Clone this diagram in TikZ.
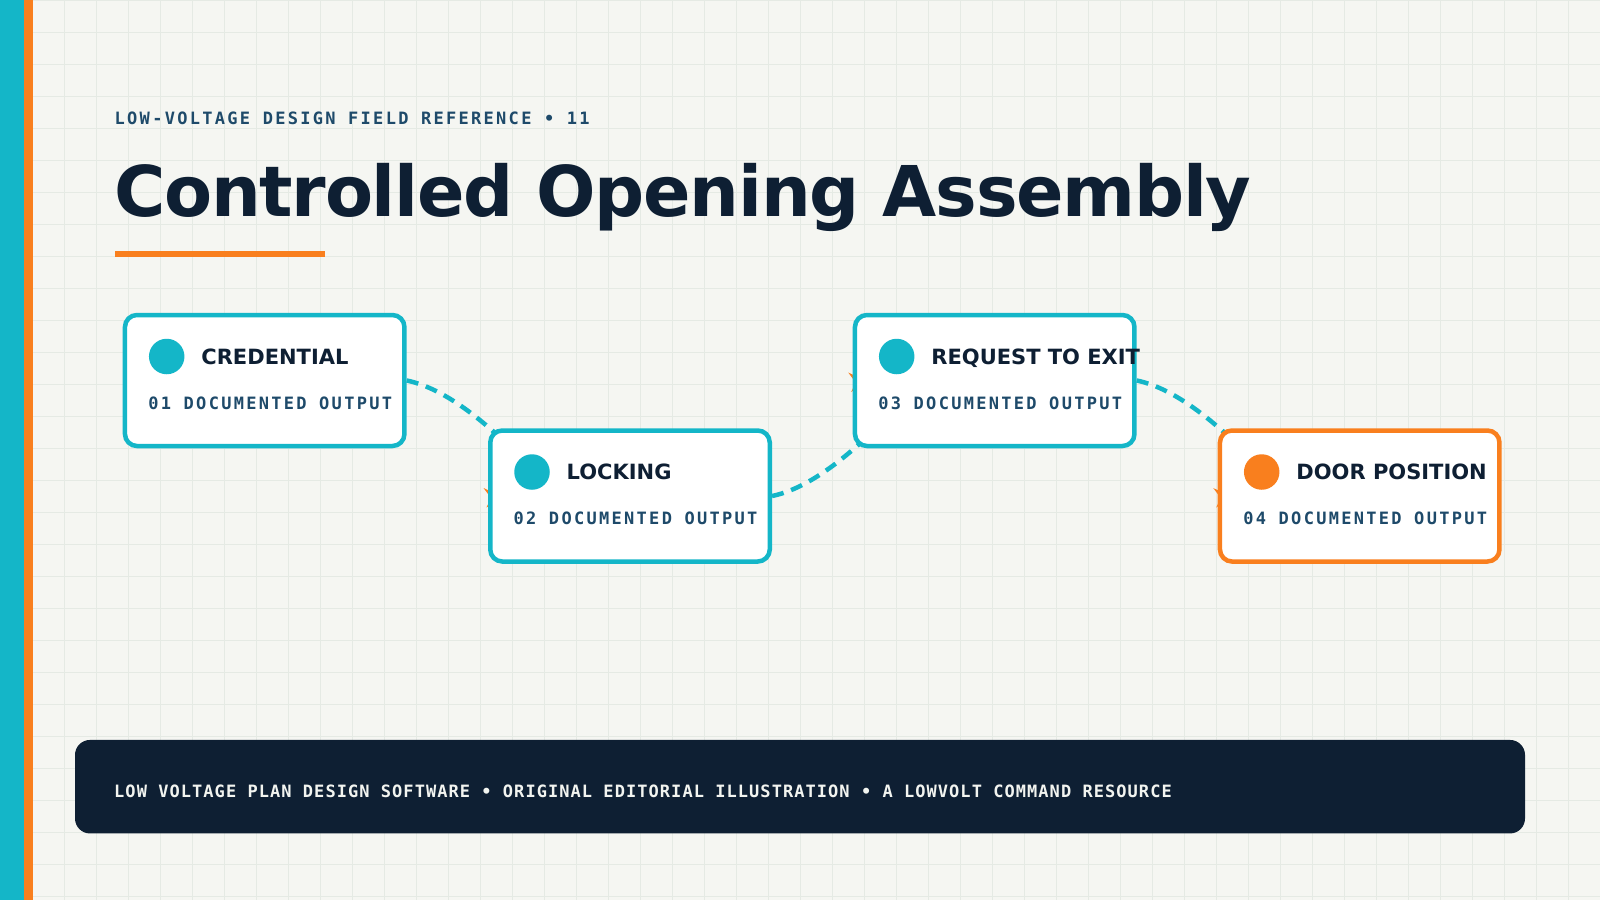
\documentclass[tikz,border=0pt]{standalone}
\usepackage{fontspec}
\setmainfont{DejaVu Sans}
\newfontfamily\titlefont[LetterSpace=-1.85]{DejaVu Sans}
\newfontfamily\labelfont{DejaVu Sans}
\newfontfamily\monowide[LetterSpace=13.5]{DejaVu Sans Mono}
\newfontfamily\mononarrow[LetterSpace=6.2]{DejaVu Sans Mono}
\usetikzlibrary{calc}

\definecolor{bgc}{HTML}{F5F6F2}
\definecolor{gridc}{HTML}{E5EAE4}
\definecolor{cyanc}{HTML}{14B6C8}
\definecolor{orangec}{HTML}{F97F1E}
\definecolor{navyc}{HTML}{0E1F33}
\definecolor{slatec}{HTML}{1E4A6A}
\definecolor{foottext}{HTML}{F2F4F0}

\pgfdeclarelayer{bg}
\pgfdeclarelayer{back}
\pgfsetlayers{bg,back,main}

\newcommand\tipmark[1]{%
  \fill[orangec] ($(#1.west)+(14,1)$) -- ($(#1.west)+(-4.5,-8)$) -- ($(#1.west)+(3,2)$) -- ($(#1.west)+(-1.5,11.5)$) -- cycle;}

\begin{document}
\begin{tikzpicture}[x=1pt,y=-1pt,
  gridline/.style={draw=gridc, line width=1pt},
  card/.style={draw=#1, line width=4.5pt, fill=white, rounded corners=12pt,
    minimum width=279.5pt, minimum height=131pt, inner sep=0pt, outer sep=2.25pt},
  dotmark/.style={circle, fill=#1, minimum size=35.5pt, inner sep=0pt, outer sep=0pt},
  cardtitle/.style={anchor=base west, inner sep=0pt, text=navyc,
    font=\labelfont\bfseries\fontsize{21pt}{25pt}\selectfont},
  cardsub/.style={anchor=base west, inner sep=0pt, text=slatec,
    font=\monowide\bfseries\fontsize{17pt}{20pt}\selectfont},
  conn/.style={draw=cyanc, line width=4.5pt, dash pattern=on 12pt off 8pt}]

\useasboundingbox (0,0) rectangle (1600,900);

\begin{pgfonlayer}{bg}
  \fill[bgc] (0,0) rectangle (1600,900);
  \foreach \i in {0,32,...,1600} \draw[gridline] (\i,0) -- (\i,900);
  \foreach \j in {0,32,...,896} \draw[gridline] (0,\j) -- (1600,\j);
  \fill[cyanc] (0,0) rectangle (24,900);
  \fill[orangec] (24,0) rectangle (32.5,900);
\end{pgfonlayer}

% header
\node[anchor=base west, inner sep=0pt, text=slatec,
  font=\monowide\bfseries\fontsize{17pt}{20pt}\selectfont] (hdr) at (114.5,124)
  {LOW-VOLTAGE DESIGN FIELD REFERENCE • 11};
\node[anchor=base west, inner sep=0pt, text=navyc,
  font=\titlefont\bfseries\fontsize{70pt}{84pt}\selectfont] (ttl) at (114,216)
  {Controlled Opening Assembly};
\fill[orangec] (115,250.5) rectangle (325,256.5);

% cards
\node[card=cyanc] (c1) at (264.7,380.5) {};
\node[card=cyanc] (c2) at (630,496) {};
\node[card=cyanc] (c3) at (994.7,380.5) {};
\node[card=orangec] (c4) at (1359.7,496) {};

\foreach \c/\col/\t/\s in {c1/cyanc/CREDENTIAL/01 DOCUMENTED OUTPUT,
                           c2/cyanc/LOCKING/02 DOCUMENTED OUTPUT,
                           c3/cyanc/REQUEST TO EXIT/03 DOCUMENTED OUTPUT,
                           c4/orangec/DOOR POSITION/04 DOCUMENTED OUTPUT}{
  \node[dotmark=\col] (\c-dot) at ($(\c.center)+(-98,-24)$) {};
  \node[cardtitle] (\c-title) at ($(\c.center)+(-63.5,-16.5)$) {\t};
  \node[cardsub] (\c-sub) at ($(\c.center)+(-116.5,28.5)$) {\s};
}

% connectors (behind cards)
\begin{pgfonlayer}{back}
  \draw[conn] (c1.east) .. controls +(32.7,6.7) and ($(c2.north west)+(-9.7,-14.5)$) .. ($(c2.north west)+(37,33.5)$);
  \draw[conn] (c2.east) .. controls +(32.7,-6.7) and ($(c3.south west)+(-9.7,14.5)$) .. ($(c3.south west)+(37,-33.5)$);
  \draw[conn] (c3.east) .. controls +(32.7,6.7) and ($(c4.north west)+(-9.7,-14.5)$) .. ($(c4.north west)+(37,33.5)$);
  \tipmark{c2}
  \tipmark{c3}
  \tipmark{c4}
\end{pgfonlayer}

% footer
\node[fill=navyc, rounded corners=15pt, minimum width=1450pt, minimum height=93.5pt,
  inner sep=0pt, outer sep=0pt] (foot) at (800,786.7) {};
\node[anchor=base west, inner sep=0pt, text=foottext,
  font=\mononarrow\bfseries\fontsize{17pt}{20pt}\selectfont] (foottxt) at (114,797)
  {LOW VOLTAGE PLAN DESIGN SOFTWARE • ORIGINAL EDITORIAL ILLUSTRATION • A LOWVOLT COMMAND RESOURCE};
\end{tikzpicture}
\end{document}
